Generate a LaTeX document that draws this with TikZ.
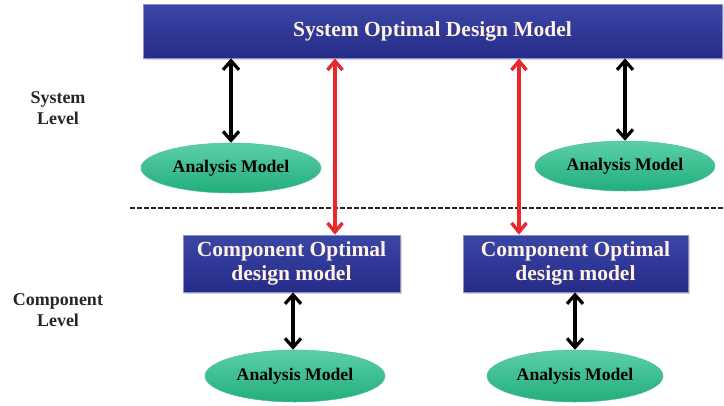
\documentclass[tikz,border=0pt]{standalone}
\usepackage{fontspec}
\setmainfont{Liberation Serif}
\usetikzlibrary{arrows.meta,shapes.geometric,shadows}
\definecolor{boxtop}{HTML}{3A46A6}
\definecolor{boxbot}{HTML}{262B88}
\definecolor{elltop}{HTML}{5CCFA6}
\definecolor{ellbot}{HTML}{22AE7C}
\definecolor{boxtext}{HTML}{FFF2E2}
\definecolor{redarr}{HTML}{E8282B}
\tikzset{
  bluebox/.style={rectangle, draw=boxtop!60!white, line width=0.8pt, top color=boxtop, bottom color=boxbot,
    text=boxtext, font=\bfseries\fontsize{21.5}{23.5}\selectfont, align=center, inner sep=0pt,
    drop shadow={shadow xshift=1.5pt, shadow yshift=-2pt, fill=black!35, opacity=0.45}},
  anaell/.style={ellipse, draw=ellbot!80!white, line width=0.5pt, top color=elltop, bottom color=ellbot,
    text=black, font=\bfseries\fontsize{17.7}{20}\selectfont, inner sep=0pt,
    minimum width=180pt, minimum height=50pt},
  lvl/.style={font=\bfseries\fontsize{18}{21}\selectfont, align=center, text=black!85},
  blkarr/.style={line width=3.2pt, black, {Straight Barb[length=9pt,width=16pt,line width=3.2pt]}-{Straight Barb[length=9pt,width=16pt,line width=3.2pt]}},
  redarrow/.style={line width=3.4pt, redarr, {Straight Barb[length=9pt,width=15pt,line width=3.4pt]}-{Straight Barb[length=9pt,width=15pt,line width=3.4pt]}},
}
\begin{document}
\begin{tikzpicture}[x=1pt,y=-1pt]
\useasboundingbox (0,0) rectangle (724,405);
% top box
\node[bluebox, minimum width=579pt, minimum height=54pt] (sys) at (432.5,31) {System Optimal Design Model};
% component boxes
\node[bluebox, minimum width=217pt, minimum height=57pt] (comp1) at (291.5,263.5) {Component Optimal\\design model};
\node[bluebox, minimum width=225pt, minimum height=57pt] (comp2) at (575.5,263.5) {Component Optimal\\design model};
% ellipses
\node[anaell] (a1) at (231,168) {Analysis Model};
\node[anaell] (a2) at (625,166) {Analysis Model};
\node[anaell, minimum height=52pt] (a3) at (295,376) {Analysis Model};
\node[anaell, minimum width=176pt, minimum height=52pt] (a4) at (575,376) {Analysis Model};
% level labels
\node[lvl] (sl) at (58,108) {System\\Level};
\node[lvl] (cl) at (58,310) {Component\\Level};
% dashed separator
\coordinate (dl) at (130,208);
\coordinate (dr) at (724,208);
\draw[line width=1.8pt, dash pattern=on 4.5pt off 2.5pt, black!85] (dl) -- (dr);
% arrows
\draw[blkarr] (sys.south -| a1.north) -- (a1.north);
\draw[blkarr] (sys.south -| a2.north) -- (a2.north);
\draw[redarrow] (sys.south -| 335,0) -- (comp1.north -| 335,0);
\draw[redarrow] (sys.south -| 519,0) -- (comp2.north -| 519,0);
\draw[blkarr] (comp1.south -| 293,0) -- (a3.north -| 293,0);
\draw[blkarr] (comp2.south -| 575,0) -- (a4.north);
\end{tikzpicture}
\end{document}
